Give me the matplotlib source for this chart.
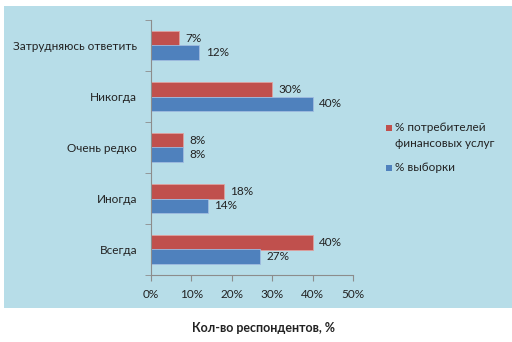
import matplotlib.pyplot as plt
import matplotlib.patches as mpatches
import numpy as np

# answers, bottom to top as drawn
categories = ["Всегда", "Иногда", "Очень редко", "Никогда", "Затрудняюсь ответить"]
consumers = [40, 18, 8, 30, 7]   # % потребителей финансовых услуг
sample = [27, 14, 8, 40, 12]     # % выборки
xticks = [0, 10, 20, 30, 40, 50]
legend_labels = ["% потребителей\nфинансовых услуг", "% выборки"]

red = "#C0504D"
blue = "#4F81BD"
bg = "#B7DDE8"
font = "Lato"

fig = plt.figure(figsize=(5.12, 3.42), dpi=100)
fig.patch.set_facecolor("white")
# light blue panel behind the chart
fig.patches.append(mpatches.Rectangle((4 / 512, 1 - 308 / 342), 508 / 512, 302 / 342,
                                      transform=fig.transFigure, facecolor=bg,
                                      edgecolor="none", zorder=-5))

ax = fig.add_axes([151 / 512, 1 - 275 / 342, 202 / 512, 255 / 342])
ax.set_facecolor("none")

y = np.arange(len(categories))
h = 0.275
ax.barh(y + h / 2, consumers, height=h, color=red, edgecolor="#E0A09E", linewidth=0.6)
ax.barh(y - h / 2, sample, height=h, color=blue, edgecolor="#A0BCE0", linewidth=0.6)

for i in range(len(categories)):
    ax.text(consumers[i] + 1.6, y[i] + h / 2, f"{consumers[i]}%", va="center", ha="left",
            fontsize=8.5, family=font, color="#222222")
    ax.text(sample[i] + 1.6, y[i] - h / 2, f"{sample[i]}%", va="center", ha="left",
            fontsize=8.5, family=font, color="#222222")

ax.set_xlim(0, 50)
ax.set_ylim(-0.5, len(categories) - 0.5)
ax.set_xticks(xticks)
ax.set_xticklabels([f"{v}%" for v in xticks], family=font, fontsize=8.5, color="#222222")
ax.set_yticks(y)
ax.set_yticklabels(categories, family=font, fontsize=8.5, color="#222222")
ax.set_yticks(np.arange(len(categories) + 1) - 0.5, minor=True)
ax.tick_params(axis="y", which="major", length=0, pad=10)
ax.tick_params(axis="y", which="minor", length=4, color="#8C8C8C", direction="out")
ax.tick_params(axis="x", length=4, color="#8C8C8C", direction="out", pad=6)

for s in ["top", "right"]:
    ax.spines[s].set_visible(False)
for s in ["left", "bottom"]:
    ax.spines[s].set_color("#8C8C8C")
    ax.spines[s].set_linewidth(0.8)

# legend drawn by hand so the marker sits on the first line of the label
for col, lab, ly in [(red, legend_labels[0], 128), (blue, legend_labels[1], 168)]:
    fig.patches.append(mpatches.Rectangle((386 / 512, 1 - (ly + 3) / 342), 6 / 512, 6 / 342,
                                          transform=fig.transFigure, facecolor=col,
                                          edgecolor="none"))
    fig.text(395 / 512, 1 - (ly - 6) / 342, lab, ha="left", va="top", family=font,
             fontsize=8.5, color="#222222", linespacing=1.6)

fig.text(263 / 512, 1 - 328 / 342, "Кол-во респондентов, %", ha="center", va="center",
         family=font, fontsize=9, fontweight="bold", color="#222222")

fig.savefig("out.png", dpi=100)
